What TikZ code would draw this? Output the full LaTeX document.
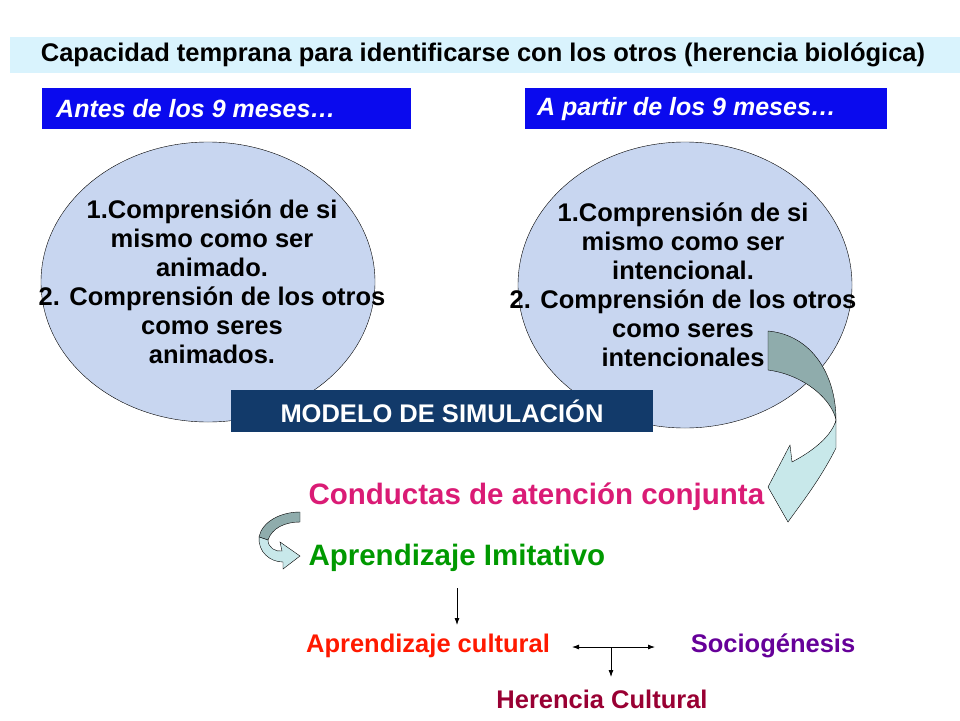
\documentclass[tikz,border=0pt]{standalone}
\usepackage{fontspec}
\setmainfont{Liberation Sans}
\usetikzlibrary{arrows.meta}
\definecolor{ellfill}{HTML}{C8D6F0}
\definecolor{navy}{HTML}{123A6A}
\definecolor{hblue}{HTML}{0A0AEE}
\definecolor{adark}{HTML}{8FACAC}
\definecolor{alight}{HTML}{C8E8EA}
\begin{document}
\begin{tikzpicture}[x=1pt,y=-1pt,
  hdr/.style={text=white,font=\bfseries\itshape\fontsize{25}{28}\selectfont,anchor=west,inner sep=0pt},
  etxt/.style={align=center,font=\bfseries\fontsize{25.5}{29}\selectfont},
  lbl/.style={font=\bfseries\fontsize{29.5}{32}\selectfont,anchor=west},
  sm/.style={font=\bfseries\fontsize{25.5}{28}\selectfont},
  arr/.style={-{Latex[length=7pt,width=5pt]},thick}]
\useasboundingbox (0,0) rectangle (960,720);
\fill[white] (0,0) rectangle (960,720);
\fill[cyan!15] (10,37) rectangle (960,73);
\node[font=\bfseries\fontsize{25.5}{28}\selectfont] (title) at (483,55) {Capacidad temprana para identificarse con los otros (herencia biológica)};
\fill[hblue] (42,88) rectangle (411,129);
\fill[hblue] (525,88) rectangle (887,129);
\node[hdr] (h1) at (56,109) {Antes de los 9 meses…};
\node[hdr] (h2) at (537,109) {A partir de los 9 meses…};
\fill[ellfill,draw=black] (208,282) ellipse [x radius=167,y radius=140];
\fill[ellfill,draw=black] (685,285) ellipse [x radius=167,y radius=143];
\node[etxt] (e1) at (212,282) {1.Comprensión de si\\mismo como ser\\animado.\\2. Comprensión de los otros\\como seres\\animados.};
\node[etxt] (e2) at (683,285) {1.Comprensión de si\\mismo como ser\\intencional.\\2. Comprensión de los otros\\como seres\\intencionales};
\fill[navy] (231,390) rectangle (653,432);
\node[text=white,font=\bfseries\fontsize{25.5}{28}\selectfont] (m) at (442,411) {MODELO DE SIMULACIÓN};
% big curved arrow
\filldraw[draw=black,fill=alight] (836,420) -- (836,448) .. controls (820,480) and (800,505) .. (788,522) -- (768,487) -- (790,445) -- (792,462) .. controls (815,450) and (832,435) .. (836,420) -- cycle;
\filldraw[draw=black,fill=adark] (768,331) .. controls (812,335) and (836,375) .. (836,420) .. controls (832,400) and (805,375) .. (768,370) -- cycle;
% small arrow
\filldraw[draw=black,fill=adark] (300,512) -- (300,522) .. controls (285,522) and (272,528) .. (268,540) -- (259,537) .. controls (262,522) and (280,512) .. (300,512) -- cycle;
\filldraw[draw=black,fill=alight] (259,537) -- (268,540) .. controls (268,548) and (276,552) .. (282,551) -- (280,542) -- (300,556) -- (283,569) -- (283,562) .. controls (270,562) and (258,552) .. (259,537) -- cycle;
\node[lbl,text=magenta!80!red!90!black] (c) at (305,497) {Conductas de atención conjunta};
\node[lbl,text=green!60!black] (ai) at (305,558) {Aprendizaje Imitativo};
\node[sm,text=red!80!orange] (ac) at (428,646) {Aprendizaje cultural};
\node[sm,text=violet!80!blue] (so) at (773,646) {Sociogénesis};
\node[sm,text=purple!80!black] (hc) at (602,699) {Herencia Cultural};
\coordinate (a1) at (457,588);
\coordinate (a2) at (457,625);
\draw[arr] (a1) -- (a2);
\coordinate (d1) at (572,647);
\coordinate (d2) at (655,647);
\coordinate (dm) at (611,647);
\coordinate (db) at (611,677);
\draw[arr,{Latex[length=7pt,width=5pt]}-{Latex[length=7pt,width=5pt]}] (d1) -- (d2);
\draw[arr] (dm) -- (db);
\end{tikzpicture}
\end{document}
